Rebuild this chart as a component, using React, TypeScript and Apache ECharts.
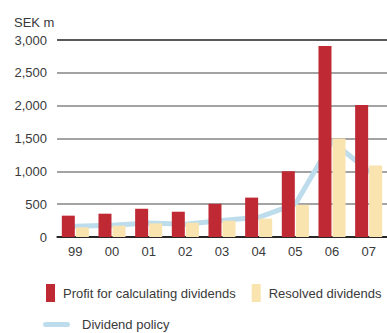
import React, { useEffect, useRef } from "react";
import * as echarts from "echarts";

const categories = ["99", "00", "01", "02", "03", "04", "05", "06", "07"];
const profitForDividends = [325, 355, 430, 385, 505, 600, 1000, 2910, 2010];
const resolvedDividends = [148, 172, 208, 218, 248, 280, 490, 1500, 1090];
const dividendPolicy = [165, 180, 215, 195, 250, 300, 500, 1455, 1005];
const yTicks = [0, 500, 1000, 1500, 2000, 2500, 3000];

const FONT = '"Liberation Sans", Arial, Helvetica, sans-serif';
const TEXT = "#3a3a3a";
const RED = "#be2933";
const YELLOW = "#f9e4b0";
const BLUE = "#bddcec";

const fmt = (v: number) => v.toLocaleString("en-US");

export default function App() {
  const ref = useRef<HTMLDivElement>(null);

  useEffect(() => {
    if (!ref.current) return;
    const chart = echarts.init(ref.current, undefined, { renderer: "svg" });
    chart.setOption({
      animation: false,
      backgroundColor: "#ffffff",
      textStyle: { fontFamily: FONT },
      grid: { left: 57, top: 40, width: 336, height: 197 },
      graphic: [
        {
          type: "text",
          left: 14,
          top: 16,
          style: { text: "SEK m", fontSize: 13, fontFamily: FONT, fill: TEXT },
        },
      ],
      legend: [
        {
          left: 41,
          top: 279,
          width: 420,
          orient: "horizontal",
          itemWidth: 9,
          itemHeight: 18,
          itemGap: 16,
          icon: "rect",
          data: ["Profit for calculating dividends", "Resolved dividends"],
          textStyle: { fontSize: 13, color: TEXT, fontFamily: FONT, padding: [0, 0, 0, 3] },
        },
        {
          left: 38,
          top: 313,
          width: 300,
          itemWidth: 27,
          itemHeight: 5,
          data: [
            {
              name: "Dividend policy",
              icon: "path://M2.5,0 H24.5 A2.5,2.5 0 0 1 24.5,5 H2.5 A2.5,2.5 0 0 1 2.5,0 Z",
              itemStyle: { color: BLUE },
            },
          ],
          textStyle: { fontSize: 13, color: TEXT, fontFamily: FONT, padding: [0, 0, 0, 7] },
        },
      ],
      xAxis: {
        type: "category",
        data: categories,
        axisLine: { show: true, lineStyle: { color: "#1a1a1a", width: 1.5 } },
        axisTick: { show: false },
        axisLabel: { fontSize: 13, color: TEXT, fontFamily: FONT, margin: 8 },
      },
      yAxis: {
        type: "value",
        min: yTicks[0],
        max: yTicks[yTicks.length - 1],
        interval: 500,
        axisLine: { show: false },
        axisTick: { show: false },
        axisLabel: {
          fontSize: 13,
          color: TEXT,
          fontFamily: FONT,
          margin: 10,
          formatter: (v: number) => fmt(v),
        },
        splitLine: {
          show: true,
          lineStyle: {
            width: 1.5,
            color: ["#1a1a1a", "#858585", "#858585", "#858585", "#858585", "#858585", "#222222"],
          },
        },
      },
      series: [
        {
          name: "Dividend policy",
          type: "line",
          data: dividendPolicy,
          z: 1,
          symbol: "none",
          lineStyle: { color: BLUE, width: 5, cap: "round", join: "round" },
          itemStyle: { color: BLUE },
        },
        {
          name: "Profit for calculating dividends",
          type: "bar",
          data: profitForDividends,
          barWidth: 13,
          barGap: "8%",
          z: 3,
          itemStyle: { color: RED },
        },
        {
          name: "Resolved dividends",
          type: "bar",
          data: resolvedDividends,
          barWidth: 13,
          barGap: "8%",
          z: 3,
          itemStyle: { color: YELLOW },
        },
      ],
    });
    return () => chart.dispose();
  }, []);

  return (
    <div
      ref={ref}
      style={{ position: "fixed", left: 0, top: 0, width: 387, height: 333, background: "#fff" }}
    />
  );
}
